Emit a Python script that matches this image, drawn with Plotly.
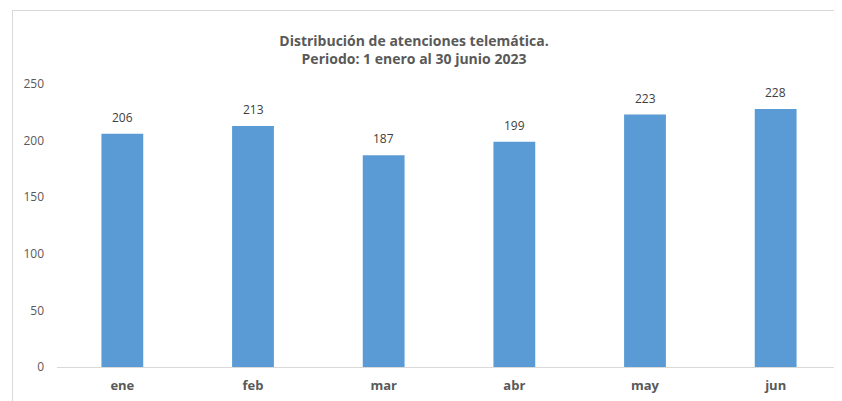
import plotly.graph_objects as go

months = ["ene", "feb", "mar", "abr", "may", "jun"]
atenciones = [206, 213, 187, 199, 223, 228]
y_ticks = [0, 50, 100, 150, 200, 250]

# page body has an 8px margin, so the figure starts at (8, 8) in the window
OFF = 8
W, H = 842 - OFF, 401 - OFF
ML, MR, MT, MB = 57 - OFF, 1, 84 - OFF, 34
pw = W - ML - MR
ph = H - MT - MB

def px_x(x):
    return (x - OFF - ML) / pw

def px_y(y):
    return (H - MB - (y - OFF)) / ph

FONT = "Open Sans, Liberation Sans, sans-serif"

fig = go.Figure()
fig.add_trace(go.Bar(
    x=months, y=atenciones,
    marker=dict(color="#5B9BD5", line=dict(width=0)),
    hoverinfo="x+y",
))

annotations = [
    dict(x=m, y=v, xref="x", yref="y", text=str(v), showarrow=False,
         yanchor="bottom", yshift=6,
         font=dict(family=FONT, size=12, color="#404040"))
    for m, v in zip(months, atenciones)
]

fig.update_layout(
    width=W, height=H,
    margin=dict(l=ML, r=MR, t=MT, b=MB),
    paper_bgcolor="white", plot_bgcolor="white",
    bargap=0.68,
    showlegend=False,
    font=dict(family=FONT, color="#595959"),
    title=dict(
        text="<b>Distribución de atenciones telemática.<br>Periodo: 1 enero al 30 junio 2023</b>",
        x=(414 - OFF) / W, xanchor="center",
        y=1 - (46 - OFF) / H, yanchor="middle",
        font=dict(size=14, color="#595959"),
    ),
    xaxis=dict(
        showgrid=False, showline=True, linecolor="#d9d9d9", linewidth=1,
        ticks="", tickfont=dict(size=13, color="#595959", weight="bold"),
        ticklabelstandoff=6,
    ),
    yaxis=dict(
        range=[0, 250], tickvals=y_ticks, showgrid=False, zeroline=False,
        showline=False, ticks="", tickfont=dict(size=12, color="#595959"),
        ticklabelstandoff=12,
    ),
    annotations=annotations,
    shapes=[
        dict(type="line", xref="paper", yref="paper",
             x0=px_x(12), x1=px_x(842 + 5), y0=px_y(10.5), y1=px_y(10.5),
             line=dict(color="#d9d9d9", width=1)),
        dict(type="line", xref="paper", yref="paper",
             x0=px_x(12.5), x1=px_x(12.5), y0=px_y(10), y1=px_y(401 + 5),
             line=dict(color="#d9d9d9", width=1)),
    ],
)

fig.write_html("out.html")
